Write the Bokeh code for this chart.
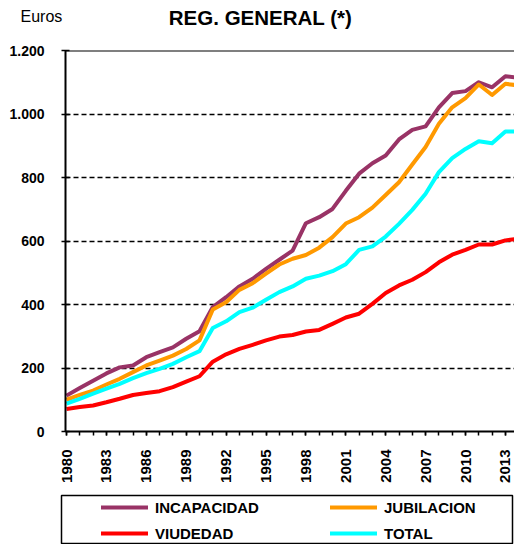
from bokeh.plotting import figure
from bokeh.models import (Range1d, FixedTicker, Span, Label, Legend, LegendItem,
                          ColumnDataSource)
from bokeh.layouts import column
from bokeh.embed import file_html
from bokeh.resources import INLINE

# ---------------- data ----------------
years = list(range(1980, 2015))
incapacidad = [113, 137, 160, 183, 202, 208, 234, 250, 265, 292, 316, 392, 423, 457,
               481, 512, 541, 570, 656, 675, 701, 758, 812, 845, 869, 920, 950, 961,
               1021, 1066, 1072, 1100, 1084, 1119, 1114]
jubilacion = [100, 115, 129, 148, 166, 187, 208, 223, 239, 260, 287, 384, 407, 446,
              467, 497, 526, 544, 556, 579, 612, 655, 675, 705, 745, 785, 841, 896,
              969, 1021, 1050, 1093, 1060, 1095, 1090]
viudedad = [71, 77, 82, 92, 103, 115, 121, 127, 140, 157, 174, 220, 243, 260,
            273, 287, 299, 304, 315, 320, 339, 359, 371, 402, 436, 460, 478, 502,
            533, 557, 572, 589, 589, 602, 607]
total = [88, 103, 119, 135, 150, 168, 184, 197, 213, 234, 253, 326, 347, 376,
         390, 415, 439, 457, 481, 491, 505, 527, 572, 583, 614, 654, 698, 749,
         817, 861, 890, 914, 908, 945, 945]

series_names = ["INCAPACIDAD", "JUBILACION", "VIUDEDAD", "TOTAL"]
series_colors = ["#993366", "#FF9900", "#FF0000", "#00FFFF"]
series_cols = ["inc", "jub", "viu", "tot"]

x_tick_years = years[0:34:3]          # 1980, 1983, ..., 2013
y_ticks = [0, 200, 400, 600, 800, 1000, 1200]
y_tick_labels = {v: f"{v:,}".replace(",", ".") for v in y_ticks}

title_text = "REG. GENERAL (*)"
unit_text = "Euros"

FONT = "Liberation Sans"
W = 514

src = ColumnDataSource(dict(year=years, inc=incapacidad, jub=jubilacion,
                            viu=viudedad, tot=total))

# ---------------- header (title + unit) ----------------
hp = figure(width=W, height=40, output_backend="svg", toolbar_location=None,
            x_range=Range1d(0, 1), y_range=Range1d(0, 1),
            x_axis_location=None, y_axis_location=None,
            min_border_left=0, min_border_right=0, min_border_top=0,
            min_border_bottom=0)
hp.frame_align = False
hp.grid.visible = False
hp.outline_line_color = None
hp.add_layout(Label(x=260, y=23, x_units="screen", y_units="screen",
                    text=title_text, text_font=FONT, text_font_style="bold",
                    text_font_size="20.5px", text_align="center",
                    text_baseline="middle", text_color="black"))
hp.add_layout(Label(x=20, y=24, x_units="screen", y_units="screen",
                    text=unit_text, text_font=FONT, text_font_size="16px",
                    text_align="left", text_baseline="middle",
                    text_color="black"))

# ---------------- main chart ----------------
px_per_year = 13.3
x_start = years[0] - 1 / px_per_year
x_end = years[0] + (W - 66) / px_per_year

p = figure(width=W, height=450, output_backend="svg", toolbar_location=None,
           x_range=Range1d(x_start, x_end), y_range=Range1d(0, y_ticks[-1]),
           min_border_left=65, min_border_right=0, min_border_top=10,
           min_border_bottom=59)
p.frame_align = False
p.outline_line_color = None
p.background_fill_color = "white"
p.border_fill_color = "white"

for col, color in zip(series_cols, series_colors):
    p.line(x="year", y=col, source=src, line_color=color, line_width=4,
           line_join="round")

xa = p.xaxis[0]
xa.ticker = FixedTicker(ticks=x_tick_years, minor_ticks=years)
xa.major_label_orientation = 3.14159265 / 2
xa.major_label_text_font = FONT
xa.major_label_text_font_style = "bold"
xa.major_label_text_font_size = "15px"
xa.major_label_text_color = "black"
xa.major_label_standoff = 14
xa.axis_line_color = "black"
xa.axis_line_width = 2
xa.major_tick_in = 0
xa.major_tick_out = 4
xa.minor_tick_in = 0
xa.minor_tick_out = 4
xa.major_tick_line_color = "black"
xa.minor_tick_line_color = "black"
xa.major_tick_line_width = 1.5
xa.minor_tick_line_width = 1.5

ya = p.yaxis[0]
ya.ticker = FixedTicker(ticks=y_ticks)
ya.major_label_overrides = y_tick_labels
ya.major_label_text_font = FONT
ya.major_label_text_font_style = "bold"
ya.major_label_text_font_size = "14px"
ya.major_label_text_color = "black"
ya.major_label_standoff = 17
ya.axis_line_color = "black"
ya.axis_line_width = 2
ya.major_tick_in = 4
ya.major_tick_out = 4
ya.minor_tick_line_color = None
ya.major_tick_line_color = "black"
ya.major_tick_line_width = 1.5

p.xgrid.visible = False
p.ygrid.ticker = FixedTicker(ticks=y_ticks)
p.ygrid.grid_line_color = "black"
p.ygrid.grid_line_dash = "5 3"
p.ygrid.grid_line_width = 1.3

p.add_layout(Span(location=y_ticks[-1], dimension="width", line_color="black",
                  line_width=2))

# ---------------- legend panel ----------------
lp = figure(width=W, height=54, output_backend="svg", toolbar_location=None,
            x_range=Range1d(0, 1), y_range=Range1d(0, 1),
            x_axis_location=None, y_axis_location=None,
            min_border_left=61, min_border_right=2, min_border_top=5,
            min_border_bottom=1)
lp.frame_align = False
lp.grid.visible = False
lp.outline_line_color = "black"
lp.outline_line_width = 1.5
lp.background_fill_color = "white"
lp.border_fill_color = "white"

# legend proxies: the series themselves, lying outside this panel's ranges
proxies = {}
for name, col, color in zip(series_names, series_cols, series_colors):
    proxies[name] = lp.line(x="year", y=col, source=src, line_color=color,
                            line_width=4, line_cap="round")


def make_legend(names, x):
    leg = Legend(items=[LegendItem(label=n, renderers=[proxies[n]]) for n in names],
                 location=(x, 1), orientation="vertical")
    leg.border_line_color = None
    leg.background_fill_alpha = 0
    leg.padding = 0
    leg.margin = 0
    leg.spacing = 8
    leg.glyph_width = 47
    leg.glyph_height = 18
    leg.label_height = 18
    leg.label_standoff = 7
    leg.label_text_font = FONT
    leg.label_text_font_style = "bold"
    leg.label_text_font_size = "15px"
    leg.label_text_color = "black"
    return leg


lp.add_layout(make_legend([series_names[0], series_names[2]], 40))
lp.add_layout(make_legend([series_names[1], series_names[3]], 269))

layout = column(hp, p, lp)
open("out.html", "w").write(file_html(layout, INLINE))
